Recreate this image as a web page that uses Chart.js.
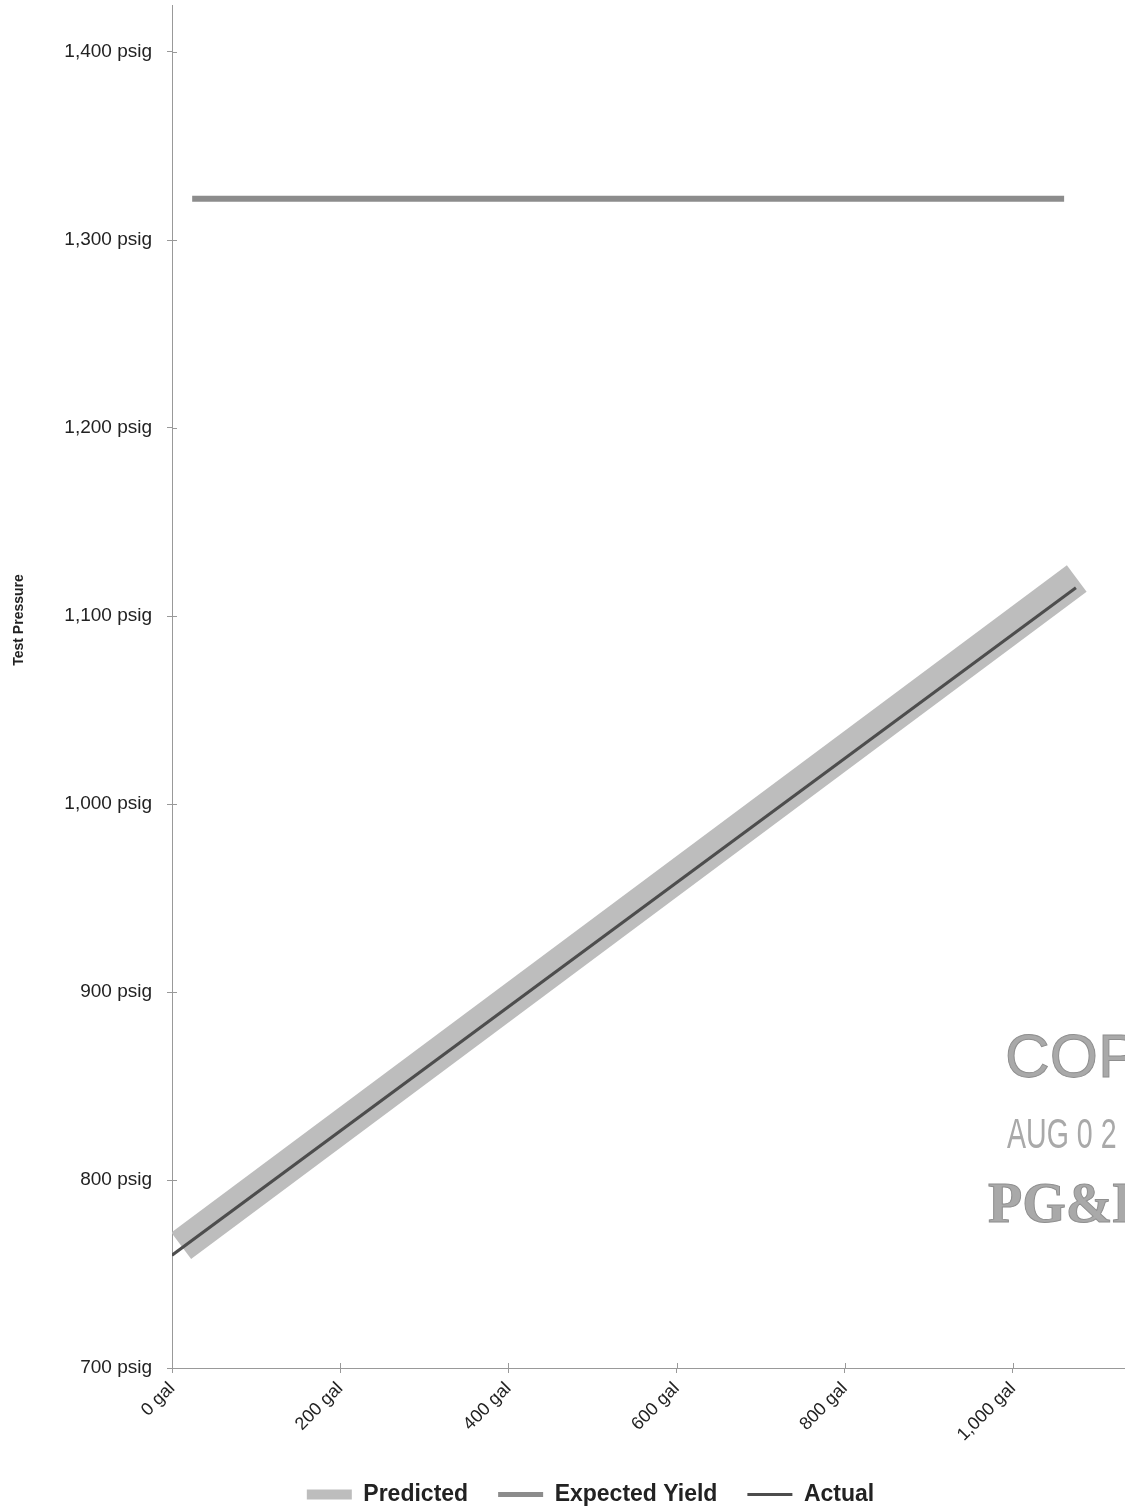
<!DOCTYPE html>
<html>
<head>
<meta charset="utf-8">
<script src="https://cdn.jsdelivr.net/npm/chart.js@4.4.1/dist/chart.umd.min.js"></script>
<style>
  html, body { margin: 0; padding: 0; background: #fff; overflow: hidden; }
  #wrap { width: 1125px; height: 1510px; overflow: hidden; }
</style>
</head>
<body>
<div id="wrap"><canvas id="pressureChart" width="1181" height="1516"></canvas></div>
<script>
// values
const gallonTicks = [0, 200, 400, 600, 800, 1000];
const pressureTicks = [700, 800, 900, 1000, 1100, 1200, 1300, 1400];

const predictedGallons = [11, 1076];
const predictedPsig = [765, 1120];
const expectedGallons = [24, 1061];
const expectedPsig = [1322, 1322];
const actualGallons = [0, 1075];
const actualPsig = [760, 1115];

const seriesNames = ['Predicted', 'Expected Yield', 'Actual'];

const toPoints = (xs, ys) => xs.map((x, i) => ({ x: x, y: ys[i] }));
const fmt = v => v.toLocaleString('en-US');
const FONT = '"Liberation Sans", Arial, sans-serif';

// small tick marks that cross into the plot area, like the original
const innerTicks = {
    id: 'innerTicks',
    afterDatasetsDraw(chart) {
        const { ctx, chartArea, scales } = chart;
        ctx.save();
        ctx.strokeStyle = '#999';
        ctx.lineWidth = 1;
        ctx.beginPath();
        scales.y.ticks.forEach(t => {
            const y = Math.round(scales.y.getPixelForValue(t.value)) + 0.5;
            ctx.moveTo(chartArea.left, y);
            ctx.lineTo(chartArea.left + 5, y);
        });
        scales.x.ticks.forEach(t => {
            const x = Math.round(scales.x.getPixelForValue(t.value)) + 0.5;
            ctx.moveTo(x, chartArea.bottom);
            ctx.lineTo(x, chartArea.bottom - 5);
        });
        ctx.stroke();
        ctx.restore();
    }
};

// axis title + the received stamp on the scan
const extraText = {
    id: 'extraText',
    afterDraw(chart) {
        const ctx = chart.ctx;
        ctx.save();
        ctx.fillStyle = '#222';
        ctx.font = 'bold 14px ' + FONT;
        ctx.translate(19, 620);
        ctx.rotate(-Math.PI / 2);
        ctx.textAlign = 'center';
        ctx.textBaseline = 'middle';
        ctx.fillText('Test Pressure', 0, 0);
        ctx.restore();

        ctx.save();
        ctx.fillStyle = '#a9a9a9';
        ctx.strokeStyle = '#8f8f8f';
        ctx.lineWidth = 1;
        ctx.textAlign = 'left';
        ctx.textBaseline = 'alphabetic';
        ctx.font = '62px ' + FONT;
        ctx.fillText('COPY', 1005, 1077);
        ctx.strokeText('COPY', 1005, 1077);
        ctx.save();
        ctx.translate(1007, 1148);
        ctx.scale(0.68, 1);
        ctx.font = '42px ' + FONT;
        ctx.fillText('AUG 0 2', 0, 0);
        ctx.restore();
        ctx.font = 'bold 56px "Liberation Serif", serif';
        ctx.fillText('PG&E', 988, 1222);
        ctx.strokeText('PG&E', 988, 1222);
        ctx.restore();
    }
};

const ctx = document.getElementById('pressureChart').getContext('2d');
const legendLineWidths = [10, 5, 3];

const pressureChart = new Chart(ctx, {
    type: 'line',
    data: {
        datasets: [{
            label: seriesNames[0],
            data: toPoints(predictedGallons, predictedPsig),
            borderColor: '#bdbdbd',
            borderWidth: 33,
            borderCapStyle: 'butt',
            pointRadius: 0,
            order: 2
        }, {
            label: seriesNames[1],
            data: toPoints(expectedGallons, expectedPsig),
            borderColor: '#8c8c8c',
            borderWidth: 6,
            pointRadius: 0,
            order: 1
        }, {
            label: seriesNames[2],
            data: toPoints(actualGallons, actualPsig),
            borderColor: '#4d4d4d',
            borderWidth: 3,
            pointRadius: 0,
            order: 0
        }]
    },
    options: {
        responsive: false,
        animation: false,
        layout: { padding: { top: 5, right: 0, left: 0, bottom: 0 } },
        scales: {
            x: {
                type: 'linear',
                min: 0,
                max: 1200,
                afterBuildTicks: scale => { scale.ticks = gallonTicks.map(v => ({ value: v })); },
                afterFit: scale => {
                    scale.height = 85;
                    scale.paddingLeft = 0;
                    scale.paddingRight = 0;
                },
                border: { color: '#999', width: 1 },
                grid: { drawOnChartArea: false, tickLength: 5, color: '#999' },
                ticks: {
                    color: '#222',
                    font: { family: FONT, size: 18 },
                    minRotation: 45,
                    maxRotation: 45,
                    padding: 5,
                    callback: v => fmt(v) + ' gal'
                }
            },
            y: {
                type: 'linear',
                min: 700,
                max: 1425,
                afterBuildTicks: scale => { scale.ticks = pressureTicks.map(v => ({ value: v })); },
                afterFit: scale => {
                    scale.width = 172;
                    scale.paddingTop = 0;
                    scale.paddingBottom = 0;
                },
                border: { color: '#999', width: 1 },
                grid: { drawOnChartArea: false, tickLength: 5, color: '#999' },
                ticks: {
                    color: '#222',
                    font: { family: FONT, size: 19 },
                    padding: 15,
                    callback: v => fmt(v) + ' psig'
                }
            }
        },
        plugins: {
            tooltip: { enabled: false },
            legend: {
                position: 'bottom',
                labels: {
                    color: '#222',
                    font: { family: FONT, size: 23, weight: 'bold' },
                    usePointStyle: true,
                    pointStyleWidth: 45,
                    padding: 30,
                    generateLabels: chart => chart.data.datasets.map((ds, i) => ({
                        text: ds.label,
                        fillStyle: ds.borderColor,
                        strokeStyle: ds.borderColor,
                        lineWidth: legendLineWidths[i],
                        pointStyle: 'line',
                        hidden: false,
                        datasetIndex: i,
                        fontColor: '#222'
                    }))
                }
            }
        }
    },
    plugins: [innerTicks, extraText]
});
</script>
</body>
</html>
